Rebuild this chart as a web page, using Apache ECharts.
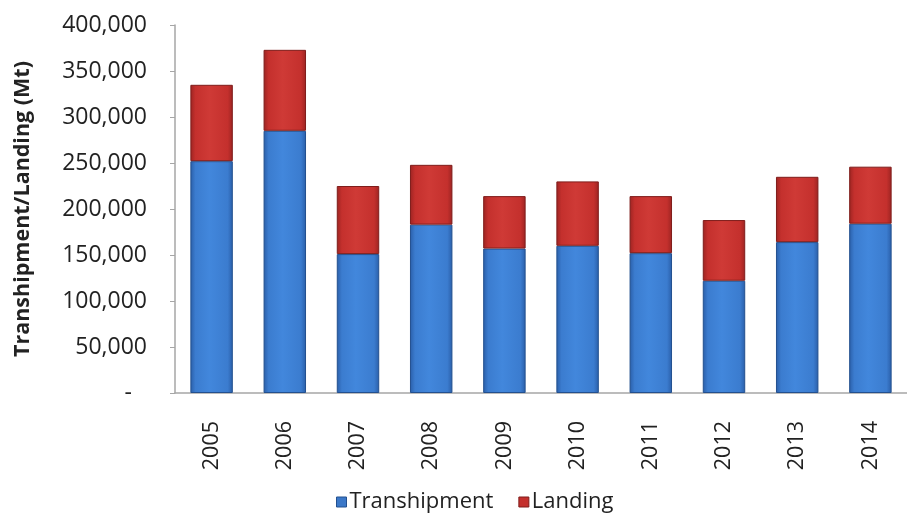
<!DOCTYPE html>
<html>
<head>
<meta charset="utf-8">
<script src="https://cdn.jsdelivr.net/npm/echarts@6/dist/echarts.min.js"></script>
<style>
  html, body { margin: 0; padding: 0; background: #ffffff; }
  #chart { width: 907px; height: 514px; }
</style>
</head>
<body>
<div id="chart"></div>
<script>
// Annual volumes (metric tonnes) split by handling type
const years = ['2005', '2006', '2007', '2008', '2009', '2010', '2011', '2012', '2013', '2014'];
const transhipment = [252000, 285000, 151000, 183000, 157000, 160000, 152000, 122000, 164000, 184000];
const landing = [83000, 88000, 74000, 65000, 57000, 70000, 62000, 66000, 71000, 62000];
const yTicks = [0, 50000, 100000, 150000, 200000, 250000, 300000, 350000, 400000];

const chart = echarts.init(document.getElementById('chart'));

// Horizontal shading gives the bars a bevelled, rounded look
function bevel(edge, mid, light) {
  return new echarts.graphic.LinearGradient(0, 0, 1, 0, [
    { offset: 0, color: edge },
    { offset: 0.12, color: mid },
    { offset: 0.45, color: light },
    { offset: 0.88, color: mid },
    { offset: 1, color: edge }
  ]);
}

const fmt = v => v === 0 ? '{dash|-}' : v.toLocaleString('en-US');

chart.setOption({
  animation: false,
  backgroundColor: '#ffffff',
  // the last category runs slightly past the right edge of the canvas
  grid: { left: 175, right: -11, top: 25, bottom: 121 },
  legend: {
    top: 486,
    left: 331,
    icon: 'rect',
    itemWidth: 10,
    itemHeight: 10,
    itemGap: 25,
    textStyle: { fontFamily: 'Open Sans', fontSize: 22, color: '#222', padding: [0, 0, 0, -2] },
    data: [
      { name: 'Transhipment', itemStyle: { color: '#3b78c8', borderColor: '#23508f', borderWidth: 1 } },
      { name: 'Landing', itemStyle: { color: '#c4302d', borderColor: '#7f1d1b', borderWidth: 1 } }
    ]
  },
  xAxis: {
    type: 'category',
    data: years,
    axisLine: { lineStyle: { color: '#a6a6a6', width: 1.5 } },
    axisTick: { show: false },
    axisLabel: {
      rotate: 90,
      margin: 28,
      fontFamily: 'Open Sans',
      fontSize: 21.5,
      color: '#222'
    }
  },
  yAxis: {
    type: 'value',
    min: yTicks[0],
    max: yTicks[yTicks.length - 1],
    interval: yTicks[1] - yTicks[0],
    name: 'Transhipment/Landing (Mt)',
    nameLocation: 'middle',
    nameGap: 141,
    nameTextStyle: { fontFamily: 'Open Sans', fontWeight: 'bold', fontSize: 21.5, color: '#222' },
    splitLine: { show: false },
    axisLine: { show: true, lineStyle: { color: '#a6a6a6', width: 1.5 } },
    axisTick: { show: true, length: 5, lineStyle: { color: '#a6a6a6' } },
    axisLabel: {
      margin: 28,
      fontFamily: 'Open Sans',
      fontSize: 23,
      color: '#222',
      formatter: fmt,
      rich: { dash: { fontFamily: 'Open Sans', fontSize: 23, color: '#222', padding: [0, 15, 0, 0] } }
    }
  },
  series: [
    {
      name: 'Transhipment',
      type: 'bar',
      stack: 'total',
      barWidth: '58%',
      data: transhipment,
      itemStyle: {
        color: bevel('#2a5ea8', '#3b7ccf', '#4287dc'),
        borderColor: '#23508f',
        borderWidth: 1
      }
    },
    {
      name: 'Landing',
      type: 'bar',
      stack: 'total',
      barWidth: '58%',
      data: landing,
      itemStyle: {
        color: bevel('#9c2422', '#c4302d', '#cf3a36'),
        borderColor: '#7f1d1b',
        borderWidth: 1
      }
    }
  ]
});
</script>
</body>
</html>
